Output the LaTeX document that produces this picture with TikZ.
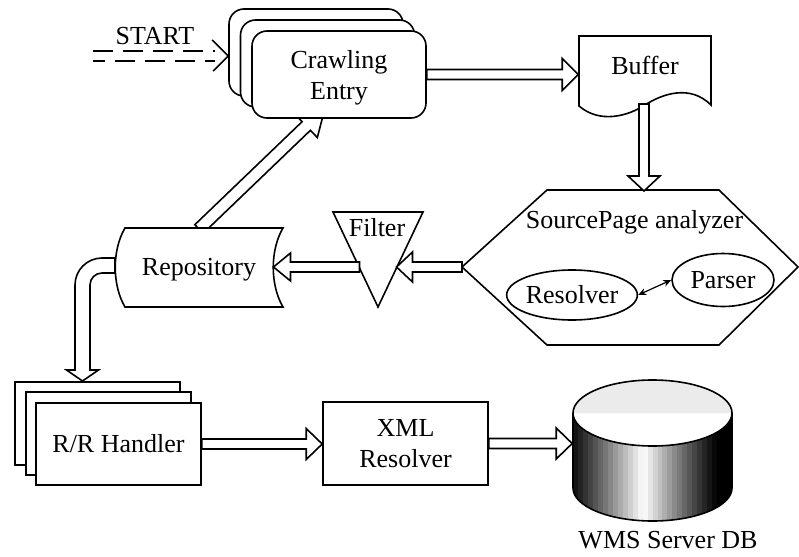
\documentclass[tikz,border=0pt]{standalone}
\usepackage{fontspec}
\setmainfont{Liberation Serif}
\usetikzlibrary{calc,shapes.geometric,arrows.meta}

\definecolor{topgray}{HTML}{EBEBEB}

\tikzset{
  lbl/.style={font=\fontsize{26}{31}\selectfont, inner sep=0pt, align=center},
  capht/.style={text height=17.2pt, text depth=0pt},
  box/.style={draw, fill=white, line width=1.6pt},
  ell/.style={draw, ellipse, fill=white, line width=1.6pt, inner sep=0pt},
  blk/.style={draw, fill=white, line width=1.6pt, line join=miter},
}

% hollow block arrow: start, tip, half shaft width, half head width, head length
\newcommand{\blockarrow}[5]{%
  \coordinate (ba-h) at ($(#2)!#5!(#1)$);
  \draw[blk] ($(#1)!#3!90:(#2)$) -- ($(ba-h)!#3!90:(#2)$) -- ($(ba-h)!#4!90:(#2)$)
    -- (#2) -- ($(ba-h)!#4!-90:(#2)$) -- ($(ba-h)!#3!-90:(#2)$) -- ($(#1)!#3!-90:(#2)$) -- cycle;}

\begin{document}
\begin{tikzpicture}[x=1pt,y=-1pt,line width=1.6pt]
\useasboundingbox (0,0) rectangle (799,556);

% ---- feedback arrow, drawn first so the crawling boxes cover its tip
\coordinate (repoT) at (199,229);
\coordinate (crawlIn) at (325,108);
\blockarrow{repoT}{crawlIn}{6pt}{16pt}{26pt}

% ---- crawling entry (stack of three rounded boxes)
\node[box, rounded corners=15pt, minimum width=174pt, minimum height=87pt] (cback) at (316,52.5) {};
\node[box, rounded corners=15pt, minimum width=174pt, minimum height=87pt] (cmid) at (327.5,63.5) {};
\node[box, rounded corners=15pt, minimum width=174pt, minimum height=87pt] (crawl) at (339,74.5) {};
\node[lbl] (crawltxt) at (339,78) {Crawling\\Entry};

% ---- start
\node[lbl,capht] (start) at (155,35.5) {START};
\coordinate (startL) at (93,56);
\coordinate (startT) at (startL -| cback.west);
\draw[dash pattern=on 20pt off 10pt] ($(startL)+(0,-5)$) -- ($(startT)+(-13,-5)$);
\draw[dash pattern=on 20pt off 10pt, dash phase=8pt] ($(startL)+(0,5)$) -- ($(startT)+(-13,5)$);
\draw ($(startT)+(-16,-16)$) -- (startT) -- ($(startT)+(-15,15)$);

% ---- buffer
\draw[box] (579,36) -- (711,36) -- (711,105)
  .. controls (690,84) and (662,94) .. (645,105)
  .. controls (628,116) and (600,124) .. (579,106) -- cycle;
\node[lbl,capht,minimum width=132pt] (buf) at (645,65.5) {Buffer};
\coordinate (bufB) at (644,104);

% ---- source page analyzer
\draw[box] (547,190) -- (719,190) -- (798,267) -- (719,345) -- (547,345) -- (462,267) -- cycle;
\coordinate (hexT) at (644,191);
\coordinate (hexL) at (462,267);
\node[lbl,capht] (spa) at (634.5,220) {SourcePage analyzer};
\node[lbl,capht,ell, minimum width=130pt, minimum height=50pt] (res) at (572,295) {Resolver};
\node[lbl,capht,ell, minimum width=102pt, minimum height=53pt] (par) at (723,280) {Parser};
\draw[{Stealth[length=8pt,width=7pt]}-{Stealth[length=8pt,width=7pt]}, line width=1.2pt] (res.east) -- (par.west);

% ---- filter
\draw[box] (333,212) -- (423,212) -- (378,307) -- cycle;
\node[lbl,capht] (filt) at (377,228) {Filter};
\coordinate (filtR) at (396.5,267);
\coordinate (filtL) at (359.5,267);

% ---- repository
\draw[box] (125,228) -- (283,228) .. controls (270,250) and (270,285) .. (283,307)
  -- (125,307) .. controls (112,285) and (112,250) .. (125,228) -- cycle;
\node[lbl,capht] (repo) at (199,267) {Repository};
\coordinate (repoR) at (273.5,267);
\coordinate (repoL) at (115,265.5);

% ---- R/R handler (stack of three boxes)
\node[box, minimum width=165pt, minimum height=83pt] (rrback) at (97.5,423.5) {};
\node[box, minimum width=165pt, minimum height=83pt] (rrmid) at (108.5,433.5) {};
\node[box, lbl, capht, minimum width=165pt, minimum height=82pt] (rr) at (118.5,444) {R/R Handler};
\coordinate (rrIn) at (82.5,381);

% ---- XML resolver
\node[box, lbl, minimum width=165pt, minimum height=83pt] (xml) at (405.5,443.5) {XML\\Resolver};

% ---- WMS server database
\node[inner sep=0pt, minimum width=159pt, minimum height=142pt] (db) at (652.5,451) {};
\begin{scope}
  \clip (573,413) -- (573,488) arc[start angle=180,end angle=360,x radius=79.5pt,y radius=33pt] -- (732,413) -- cycle;
  \foreach \i in {0,...,31}{
    \pgfmathsetmacro\t{(\i+0.5)/32}
    \pgfmathsetmacro\b{100*pow(max(0.001,1-abs(\t-0.44)/0.47),1.1)}
    \fill[white!\b!black] (573+\i*4.97,400) rectangle ++(5.6,130);
  }
\end{scope}
\draw (573,413) -- (573,488) arc[start angle=180,end angle=360,x radius=79.5pt,y radius=33pt] -- (732,413);
\fill[white] (652.5,413) ellipse[x radius=79.5pt, y radius=33pt];
\fill[topgray] (573,413) arc[start angle=180,end angle=0,x radius=79.5pt,y radius=33pt] -- cycle;
\draw (652.5,413) ellipse[x radius=79.5pt, y radius=33pt];
\node[lbl,capht] (dblbl) at (668,539.5) {WMS Server DB};

% ---- block arrows
\coordinate (a1e) at (crawl.east -| buf.west);
\blockarrow{crawl.east}{a1e}{5pt}{16pt}{16pt}
\blockarrow{bufB}{hexT}{5pt}{16pt}{15pt}
\blockarrow{hexL}{filtR}{5pt}{15pt}{16pt}
\blockarrow{filtL}{repoR}{5pt}{14pt}{17pt}
\coordinate (a5e) at (rr.east -| xml.west);
\blockarrow{rr.east}{a5e}{5pt}{15.5pt}{16pt}
\coordinate (a6e) at (xml.east -| db.west);
\blockarrow{xml.east}{a6e}{5pt}{15.5pt}{16pt}

% repository down to the R/R handlers
\draw[blk] ($(repoL)+(0,-7.5)$) -- ($(repoL)+(-13,-7.5)$) arc[start angle=90,end angle=180,radius=27pt]
  -- ($(rrIn)+(-7.5,-11)$) -- ($(rrIn)+(-16,-11)$) -- (rrIn) -- ($(rrIn)+(16,-11)$)
  -- ($(rrIn)+(7.5,-11)$) -- ($(repoL)+(-25,19.5)$) arc[start angle=180,end angle=90,radius=12pt]
  -- ($(repoL)+(0,7.5)$) -- cycle;
\end{tikzpicture}
\end{document}
